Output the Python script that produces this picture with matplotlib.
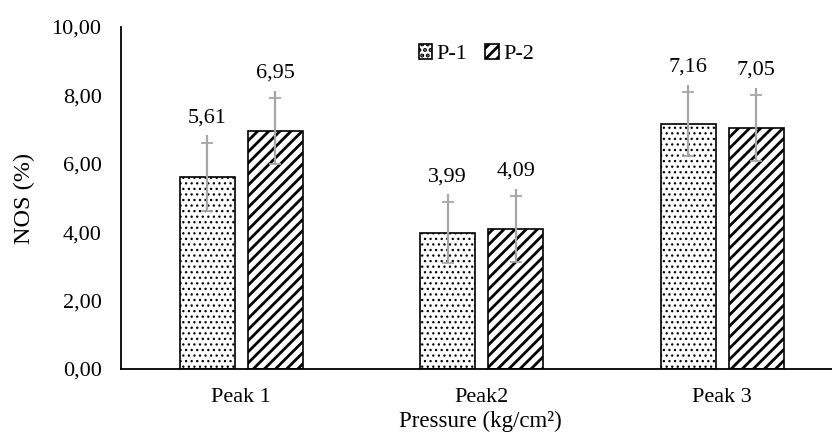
import numpy as np
import matplotlib
matplotlib.use('Agg')
import matplotlib.pyplot as plt
from matplotlib.ticker import FuncFormatter

plt.rcParams['font.family'] = ['Liberation Serif', 'DejaVu Serif']

peaks = ['Peak 1', 'Peak2', 'Peak 3']
p1 = [5.61, 3.99, 7.16]
p2 = [6.95, 4.09, 7.05]
p1_err = [1.00, 0.90, 0.93]
p2_err = [0.97, 0.96, 0.96]

fig = plt.figure(figsize=(8.32, 4.33), dpi=100)
ax = fig.add_axes([0.1454, 0.1478, 0.8546, 0.7898])

x = np.arange(len(peaks))
w = 0.229
off = 0.142

plt.rcParams['hatch.linewidth'] = 0.9
b1 = ax.bar(x - off, p1, w, color='white', edgecolor='black', linewidth=1.2,
            hatch='...', label='P-1', zorder=2)
plt.rcParams['hatch.linewidth'] = 2.0
b2 = ax.bar(x + off, p2, w, color='white', edgecolor='black', linewidth=1.2,
            hatch='///', label='P-2', zorder=2)

ecol = '#a6a6a6'
for xs, vals, errs in [(x - off, p1, p1_err), (x + off, p2, p2_err)]:
    vals = np.array(vals)
    errs = np.array(errs)
    ax.errorbar(xs, vals, yerr=errs, fmt='none', ecolor=ecol, elinewidth=1.6,
                capsize=4.5, capthick=1.3, zorder=3)
    # the bar line pokes a little above the top cap
    ax.vlines(xs, vals + errs, vals + errs + 0.22, color=ecol, lw=1.6, zorder=3)
    for xi, v, e in zip(xs, vals, errs):
        ax.annotate(f'{v:.2f}'.replace('.', ','), (xi, v + e), xytext=(0, 18),
                    textcoords='offset points', ha='center', va='center',
                    fontsize=16)

ax.set_ylim(0, 10)
ax.set_xlim(-0.5, 2.5 - 10.5 / 240.5)
ax.set_yticks(np.arange(0, 10.1, 2))
ax.yaxis.set_major_formatter(FuncFormatter(lambda v, p: f'{v:.2f}'.replace('.', ',')))
ax.set_xticks(x)
ax.set_xticklabels(peaks)
ax.tick_params(axis='both', length=0, labelsize=16)
ax.tick_params(axis='y', pad=14)
ax.tick_params(axis='x', pad=14)

for s in ['top', 'right']:
    ax.spines[s].set_visible(False)
for s in ['left', 'bottom']:
    ax.spines[s].set_linewidth(1.3)

ax.set_ylabel('NOS (%)', fontsize=17.5, labelpad=12)
ax.set_xlabel('Pressure (kg/cm²)', fontsize=16.5)
ax.xaxis.label.set_va('center')
ax.xaxis.set_label_coords(0.505, -0.152)

leg = ax.legend(loc='center', bbox_to_anchor=(0.5, 0.92), ncol=2, frameon=False,
                fontsize=16, handlelength=0.6, handleheight=0.6, handletextpad=0.2,
                columnspacing=0.8)

plt.savefig('out.png', dpi=100)
